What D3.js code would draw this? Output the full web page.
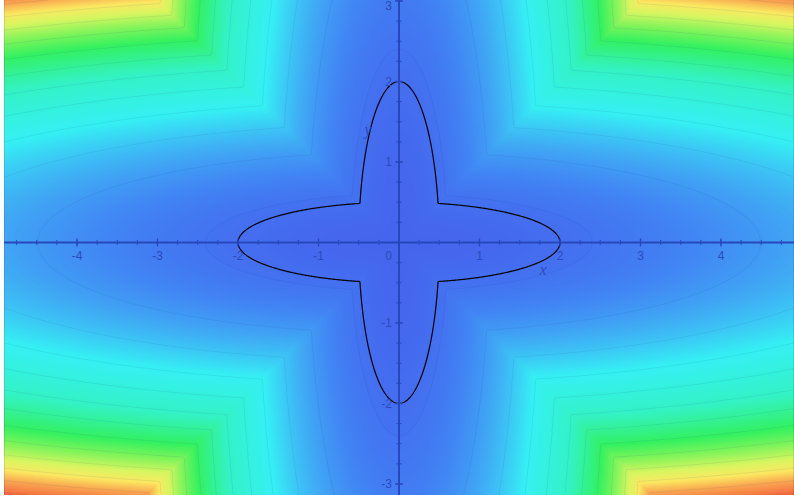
<!DOCTYPE html>
<html>
<head>
<meta charset="utf-8">
<script src="https://cdn.jsdelivr.net/npm/d3@7"></script>
<style>
html, body { margin: 0; padding: 0; background: #fff; overflow: hidden; }
svg { display: block; }
</style>
</head>
<body>
<div id="chart"></div>
<script>
// tick values and labels
var xTicks = [-4, -3, -2, -1, 1, 2, 3, 4];
var yTicks = [-3, -2, -1, 1, 2, 3];
// faint level curves
var levels = [1.44, 5.04, 8.64, 12.24, 15.84, 19.44, 23.04, 26.64, 30.24, 33.84, 37.44, 41.04, 44.64];
// the black curve
var curveLevels = [1];
// colour ramp: value -> colour
var colorValues = [0, 3, 6, 8.5, 12, 20, 27, 31, 35, 38, 41, 46];
var colorStops = ["#4565ed", "#4182f4", "#40a5f4", "#3cc4f5", "#35f0f3", "#33f2c4", "#33f160",
                  "#80f45a", "#d8f560", "#fbe860", "#f9a750", "#f55a3c"];

var width = 794;
var height = 499;

var x = d3.scaleLinear().domain([-4.907, 4.907]).range([4, 794]);
var y = d3.scaleLinear().domain([-3.137, 3.012]).range([495, 0]);

var color = d3.scaleLinear().domain(colorValues).range(colorStops).clamp(true);

function f(u, v) {
    var a = u * u / 4 + 4 * v * v;
    var b = 4 * u * u + v * v / 4;
    return Math.min(a, b);
}

var x0 = x.range()[0], y0 = y.range()[1];
var pw = x.range()[1] - x0, ph = y.range()[0] - y0;

// smooth colour field, painted pixel by pixel from the scales
var lut = d3.range(0, 1024).map(function (k) { return d3.rgb(color(k / 1023 * 47)); });
var canvas = document.createElement("canvas");
canvas.width = pw;
canvas.height = ph;
var ctx = canvas.getContext("2d");
var img = ctx.createImageData(pw, ph);
for (var j = 0; j < ph; j++) {
    for (var i = 0; i < pw; i++) {
        var v = f(x.invert(x0 + i + 0.5), y.invert(y0 + j + 0.5));
        var c = lut[Math.max(0, Math.min(1023, Math.round(v / 47 * 1023)))];
        var k = (j * pw + i) * 4;
        img.data[k] = c.r;
        img.data[k + 1] = c.g;
        img.data[k + 2] = c.b;
        img.data[k + 3] = 255;
    }
}
ctx.putImageData(img, 0, 0);

// sampled grid for the level curves
var n = pw + 1, m = ph + 1;
var values = new Float64Array(n * m);
for (var jj = 0; jj < m; jj++) {
    for (var ii = 0; ii < n; ii++) {
        values[jj * n + ii] = f(x.invert(x0 + ii), y.invert(y0 + jj));
    }
}
var path = d3.geoPath(d3.geoTransform({
    point: function (px, py) { this.stream.point(x0 + px - 0.5, y0 + py - 0.5); }
}));

var svg = d3.select("#chart")
    .append("svg")
    .attr("width", width)
    .attr("height", height);

svg.append("clipPath").attr("id", "plot")
    .append("rect")
    .attr("x", x0).attr("y", y0)
    .attr("width", pw).attr("height", ph);

var plot = svg.append("g").attr("clip-path", "url(#plot)");

plot.append("image")
    .attr("x", x0).attr("y", y0)
    .attr("width", pw).attr("height", ph)
    .attr("href", canvas.toDataURL());

// faint level curves
var lines = d3.contours().size([n, m]).thresholds(levels)(values);

plot.append("g")
    .selectAll("path")
    .data(lines)
    .enter().append("path")
    .attr("d", path)
    .attr("fill", "none")
    .attr("stroke", "rgba(10,40,110,0.08)")
    .attr("stroke-width", 1);

// axes
var axisColor = "#2648bb";
var labelColor = "#2a4bbd";
var axes = svg.append("g");

axes.append("line")
    .attr("x1", x.range()[0]).attr("x2", x.range()[1])
    .attr("y1", y(0)).attr("y2", y(0))
    .attr("stroke", axisColor).attr("stroke-width", 2);

axes.append("line")
    .attr("x1", x(0)).attr("x2", x(0))
    .attr("y1", y.range()[1]).attr("y2", y.range()[0])
    .attr("stroke", axisColor).attr("stroke-width", 2);

var xMinor = d3.range(-4.75, 4.9, 0.25);
var yMinor = d3.range(-3, 3.01, 0.25);

axes.selectAll(".xminor")
    .data(xMinor)
    .enter().append("line")
    .attr("x1", function (d) { return x(d); })
    .attr("x2", function (d) { return x(d); })
    .attr("y1", y(0) - 2.5).attr("y2", y(0) + 2.5)
    .attr("stroke", axisColor).attr("stroke-width", 1);

axes.selectAll(".yminor")
    .data(yMinor)
    .enter().append("line")
    .attr("y1", function (d) { return y(d); })
    .attr("y2", function (d) { return y(d); })
    .attr("x1", x(0) - 2.5).attr("x2", x(0) + 2.5)
    .attr("stroke", axisColor).attr("stroke-width", 1);

axes.selectAll(".xmajor")
    .data(xTicks)
    .enter().append("line")
    .attr("x1", function (d) { return x(d); })
    .attr("x2", function (d) { return x(d); })
    .attr("y1", y(0) - 4).attr("y2", y(0) + 4)
    .attr("stroke", axisColor).attr("stroke-width", 1.3);

axes.selectAll(".ymajor")
    .data(yTicks)
    .enter().append("line")
    .attr("y1", function (d) { return y(d); })
    .attr("y2", function (d) { return y(d); })
    .attr("x1", x(0) - 4).attr("x2", x(0) + 4)
    .attr("stroke", axisColor).attr("stroke-width", 1.3);

axes.selectAll(".xlabel")
    .data(xTicks)
    .enter().append("text")
    .attr("x", function (d) { return x(d); })
    .attr("y", y(0) + 18)
    .attr("text-anchor", "middle")
    .attr("font-family", "Liberation Sans, Arial, sans-serif")
    .attr("font-size", "12px")
    .attr("fill", labelColor)
    .text(function (d) { return d; });

axes.selectAll(".ylabel")
    .data(yTicks)
    .enter().append("text")
    .attr("x", x(0) - 7)
    .attr("y", function (d) { return Math.max(y(d), 6); })
    .attr("dy", "0.35em")
    .attr("text-anchor", "end")
    .attr("font-family", "Liberation Sans, Arial, sans-serif")
    .attr("font-size", "12px")
    .attr("fill", labelColor)
    .text(function (d) { return d; });

axes.append("text")
    .attr("x", x(0) - 7)
    .attr("y", y(0) + 18)
    .attr("text-anchor", "end")
    .attr("font-family", "Liberation Sans, Arial, sans-serif")
    .attr("font-size", "12px")
    .attr("fill", labelColor)
    .text("0");

axes.append("text")
    .attr("x", x(1.79)).attr("y", y(-0.34))
    .attr("dy", "0.35em")
    .attr("text-anchor", "middle")
    .attr("font-family", "Liberation Serif, Times New Roman, serif")
    .attr("font-style", "italic")
    .attr("font-size", "16px")
    .attr("fill", labelColor)
    .text("x");

axes.append("text")
    .attr("x", x(-0.385)).attr("y", y(1.4))
    .attr("dy", "0.35em")
    .attr("text-anchor", "middle")
    .attr("font-family", "Liberation Serif, Times New Roman, serif")
    .attr("font-style", "italic")
    .attr("font-size", "16px")
    .attr("fill", labelColor)
    .text("y");

// the black level curve f = 1
var curve = d3.contours().size([n, m]).thresholds(curveLevels)(values);

plot.append("g")
    .selectAll("path")
    .data(curve)
    .enter().append("path")
    .attr("d", path)
    .attr("fill", "none")
    .attr("stroke", "#000")
    .attr("stroke-width", 1.2);
</script>
</body>
</html>
